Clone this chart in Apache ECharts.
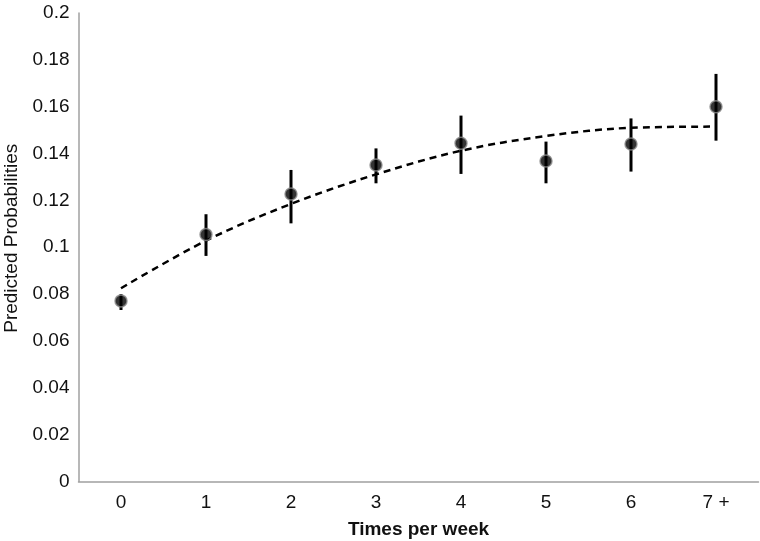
<!DOCTYPE html>
<html>
<head>
<meta charset="utf-8">
<script src="https://cdn.jsdelivr.net/npm/echarts@6/dist/echarts.min.js"></script>
<style>html,body{margin:0;padding:0;background:#fff}#c{width:760px;height:541px}</style>
</head>
<body>
<div id="c"></div>
<script>
const categories = ['0', '1', '2', '3', '4', '5', '6', '7 +'];
const predicted = [0.0771, 0.1054, 0.1227, 0.1351, 0.1444, 0.1368, 0.1441, 0.1600];
const lower = [0.0732, 0.0963, 0.1102, 0.1273, 0.1313, 0.1273, 0.1323, 0.1455];
const upper = [0.0800, 0.1141, 0.1330, 0.1422, 0.1562, 0.1451, 0.1550, 0.1740];
const trend = [0.0825, 0.1028, 0.1185, 0.1311, 0.1412, 0.1475, 0.1510, 0.1515];
const yTicks = { min: 0, max: 0.2, interval: 0.02 };

const chart = echarts.init(document.getElementById('c'), null, { renderer: 'canvas' });
const font = '"Liberation Sans", Arial, Helvetica, sans-serif';
chart.setOption({
  animation: false,
  backgroundColor: '#fff',
  grid: { left: 78.5, right: 1.5, top: 13, bottom: 59.5, containLabel: false, outerBoundsMode: 'none' },
  xAxis: {
    type: 'category',
    data: categories,
    boundaryGap: true,
    name: 'Times per week',
    nameLocation: 'middle',
    nameGap: 39,
    nameTextStyle: { fontFamily: font, fontSize: 19, fontWeight: 'bold', color: '#111' },
    axisLine: { lineStyle: { color: '#a0a0a0', width: 1.5 } },
    axisTick: { show: false },
    axisLabel: { fontFamily: font, fontSize: 19, color: '#111', margin: 12 },
    splitLine: { show: false }
  },
  yAxis: {
    type: 'value',
    min: yTicks.min, max: yTicks.max, interval: yTicks.interval,
    name: 'Predicted Probabilities',
    nameLocation: 'middle',
    nameGap: 56,
    nameRotate: 90,
    nameTextStyle: { fontFamily: font, fontSize: 19, color: '#111', padding: [0, 0, 0, 18] },
    axisLine: { show: true, lineStyle: { color: '#a0a0a0', width: 1.5 } },
    axisTick: { show: false },
    axisLabel: { fontFamily: font, fontSize: 19, color: '#111', margin: 9 },
    splitLine: { show: false }
  },
  series: [
    {
      type: 'line',
      data: trend,
      smooth: 0.35,
      symbol: 'none',
      lineStyle: { color: '#000', width: 2.5, type: [7, 5] },
      z: 2
    },
    {
      type: 'custom',
      data: categories.map((c, i) => [i, lower[i], upper[i]]),
      renderItem: function (params, api) {
        const x = api.value(0);
        const lo = api.coord([x, api.value(1)]);
        const hi = api.coord([x, api.value(2)]);
        return {
          type: 'line',
          shape: { x1: lo[0], y1: lo[1], x2: hi[0], y2: hi[1] },
          style: { stroke: '#000', lineWidth: 3 }
        };
      },
      z: 3
    },
    {
      type: 'scatter',
      data: predicted,
      symbol: 'circle',
      symbolSize: 12,
      itemStyle: { color: '#000', borderColor: '#8a8a8a', borderWidth: 1.5 },
      z: 4
    }
  ]
});
</script>
</body>
</html>
